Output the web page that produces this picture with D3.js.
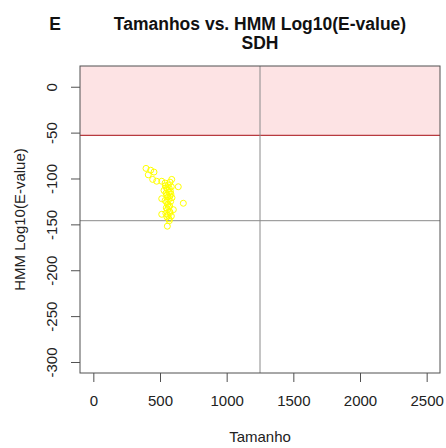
<!DOCTYPE html>
<html>
<head>
<meta charset="utf-8">
<script src="https://cdn.jsdelivr.net/npm/d3@7"></script>
<style>
  body { margin: 0; background: #fff; }
  text { font-family: "Liberation Sans", Arial, sans-serif; }
</style>
</head>
<body>
<div id="chart"></div>
<script>
// sizes (Tamanho) and HMM log10(E-value) for each SDH sequence
const tamanhos = [395, 430, 455, 412, 445, 475, 513, 538, 588, 575, 637, 675, 513, 513, 555,
  570, 600, 540, 548, 556, 562, 570, 578, 585, 545, 552, 560, 567, 575, 582, 538, 550,
  558, 565, 572, 580, 547, 555, 563, 571, 544, 560, 576, 552, 568, 590, 530, 585];
const logEvalues = [-89, -91, -93, -96, -101, -103, -103, -105, -101, -104, -109, -127, -122, -139, -152,
  -146, -134, -108, -110, -112, -107, -111, -114, -109, -116, -118, -120, -115, -119, -117, -124, -126,
  -128, -123, -130, -125, -132, -134, -131, -136, -138, -140, -137, -142, -144, -121, -113, -141];

const xTicks = [0, 500, 1000, 1500, 2000, 2500];
const yTicks = [0, -50, -100, -150, -200, -250, -300];

const xDomain = [-100, 2600];
const yDomain = [22.6, -312];
const eCutoff = -53;      // red threshold
const sizeCut = 1250;     // vertical reference
const eMedian = -146;     // horizontal reference

const width = 446, height = 448;
const m = { left: 80, right: 6, top: 66, bottom: 75 };

const svg = d3.select('#chart').append('svg')
  .attr('width', width)
  .attr('height', height);

const x = d3.scaleLinear().domain(xDomain).range([m.left, width - m.right]);
const y = d3.scaleLinear().domain(yDomain).range([m.top, height - m.bottom]);

// shaded zone above cutoff
svg.append('rect')
  .attr('x', x(xDomain[0]))
  .attr('y', y(yDomain[0]))
  .attr('width', x(xDomain[1]) - x(xDomain[0]))
  .attr('height', y(eCutoff) - y(yDomain[0]))
  .attr('fill', '#fde3e4');

svg.append('line')
  .attr('x1', x(xDomain[0])).attr('x2', x(xDomain[1]))
  .attr('y1', y(eCutoff)).attr('y2', y(eCutoff))
  .attr('stroke', '#b83a3f').attr('stroke-width', 1.4);

svg.append('line')
  .attr('x1', x(sizeCut)).attr('x2', x(sizeCut))
  .attr('y1', y(yDomain[0])).attr('y2', y(yDomain[1]))
  .attr('stroke', '#8a8a8a').attr('stroke-width', 1);

svg.append('line')
  .attr('x1', x(xDomain[0])).attr('x2', x(xDomain[1]))
  .attr('y1', y(eMedian)).attr('y2', y(eMedian))
  .attr('stroke', '#8a8a8a').attr('stroke-width', 1);

// points
svg.append('g').selectAll('circle')
  .data(d3.zip(tamanhos, logEvalues))
  .enter().append('circle')
  .attr('cx', d => x(d[0]))
  .attr('cy', d => y(d[1]))
  .attr('r', 3)
  .attr('fill', 'none')
  .attr('stroke', '#ffff00')
  .attr('stroke-width', 1);

// box
svg.append('rect')
  .attr('x', x(xDomain[0]))
  .attr('y', y(yDomain[0]))
  .attr('width', x(xDomain[1]) - x(xDomain[0]))
  .attr('height', y(yDomain[1]) - y(yDomain[0]))
  .attr('fill', 'none')
  .attr('stroke', '#505050')
  .attr('stroke-width', 1);

// axes (plain hyphen minus, no thousands separator, like R)
const fmt = d => String(d);
const xAxis = svg.append('g')
  .attr('transform', `translate(0,${y(yDomain[1])})`)
  .call(d3.axisBottom(x).tickValues(xTicks).tickFormat(fmt).tickSize(9).tickPadding(13));
const yAxis = svg.append('g')
  .attr('transform', `translate(${x(xDomain[0])},0)`)
  .call(d3.axisLeft(y).tickValues(yTicks).tickFormat(fmt).tickSize(9).tickPadding(0));

[xAxis, yAxis].forEach(a => {
  a.select('.domain').remove();
  a.selectAll('line').attr('stroke', '#505050');
  a.selectAll('text').attr('font-size', 15).attr('fill', '#222')
    .style('font-family', '"Liberation Sans", Arial, sans-serif');
});

yAxis.selectAll('.tick text')
  .attr('x', 0).attr('dy', 0)
  .attr('text-anchor', 'middle')
  .attr('transform', 'translate(-23,0) rotate(-90)');

// labels
svg.append('text')
  .attr('x', (x(xDomain[0]) + x(xDomain[1])) / 2)
  .attr('y', 442)
  .attr('text-anchor', 'middle')
  .attr('font-size', 15).attr('fill', '#222')
  .text('Tamanho');

svg.append('text')
  .attr('transform', `translate(25,${(y(yDomain[0]) + y(yDomain[1])) / 2}) rotate(-90)`)
  .attr('text-anchor', 'middle')
  .attr('font-size', 15).attr('fill', '#222')
  .text('HMM Log10(E-value)');

const cx = (x(xDomain[0]) + x(xDomain[1])) / 2;
svg.append('text')
  .attr('x', cx).attr('y', 30)
  .attr('text-anchor', 'middle')
  .attr('font-size', 17.5).attr('font-weight', 'bold').attr('fill', '#111')
  .text('Tamanhos vs. HMM Log10(E-value)');
svg.append('text')
  .attr('x', cx).attr('y', 49)
  .attr('text-anchor', 'middle')
  .attr('font-size', 17.5).attr('font-weight', 'bold').attr('fill', '#111')
  .text('SDH');
svg.append('text')
  .attr('x', 55).attr('y', 30)
  .attr('text-anchor', 'middle')
  .attr('font-size', 17.5).attr('font-weight', 'bold').attr('fill', '#111')
  .text('E');
</script>
</body>
</html>
